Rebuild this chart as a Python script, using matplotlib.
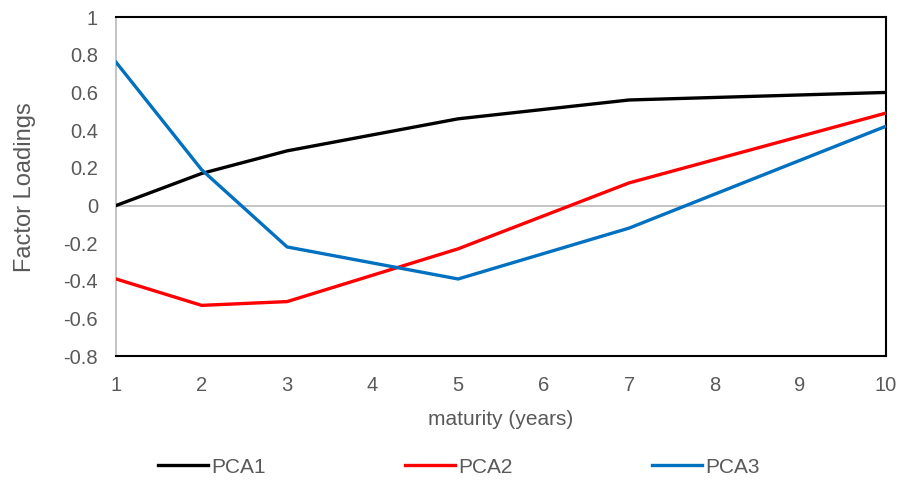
import matplotlib
matplotlib.use('Agg')
import matplotlib.pyplot as plt

plt.rcParams['font.family'] = ['Liberation Sans', 'DejaVu Sans']

# factor loadings of the first three principal components by maturity
maturity = [1, 2, 3, 5, 7, 10]
pca1 = [0.00, 0.17, 0.29, 0.46, 0.56, 0.60]
pca2 = [-0.39, -0.53, -0.51, -0.23, 0.12, 0.49]
pca3 = [0.76, 0.19, -0.22, -0.39, -0.12, 0.42]
names = ['PCA1', 'PCA2', 'PCA3']
colors = ['#000000', '#ff0000', '#0070c0']

text_col = '#595959'

fig = plt.figure(figsize=(9, 4.88), dpi=100)
ax = fig.add_axes([0.129, 0.270, 0.855, 0.695])

ax.axhline(0, color='#bfbfbf', lw=1.3, zorder=1)
for ys, name, c in zip([pca1, pca2, pca3], names, colors):
    ax.plot(maturity, ys, color=c, lw=2.4, label=name, zorder=3,
            solid_joinstyle='round')

ax.set_xlim(1, 10)
ax.set_ylim(-0.8, 1)
ax.set_xticks(range(1, 11))
ax.set_yticks([-0.8, -0.6, -0.4, -0.2, 0, 0.2, 0.4, 0.6, 0.8, 1])
ax.set_yticklabels(['-0.8', '-0.6', '-0.4', '-0.2', '0', '0.2', '0.4', '0.6', '0.8', '1'])
ax.tick_params(length=0, labelsize=14.5, colors=text_col)
ax.tick_params(axis='x', pad=14)
ax.tick_params(axis='y', pad=13)

for s in ['top', 'right', 'bottom']:
    ax.spines[s].set_color('black')
    ax.spines[s].set_linewidth(1.5)
ax.spines['left'].set_color('#bfbfbf')
ax.spines['left'].set_linewidth(1.3)

ax.set_xlabel('maturity (years)', fontsize=15, color=text_col, labelpad=11)
ax.set_ylabel('Factor Loadings', fontsize=17, color=text_col, labelpad=20)

fig.legend(loc='center', bbox_to_anchor=(0.510, 0.043), ncol=3, frameon=False,
           fontsize=15, labelcolor=text_col, handlelength=2.4, handletextpad=0.15,
           columnspacing=6.7)

fig.savefig('out.png', dpi=100)
